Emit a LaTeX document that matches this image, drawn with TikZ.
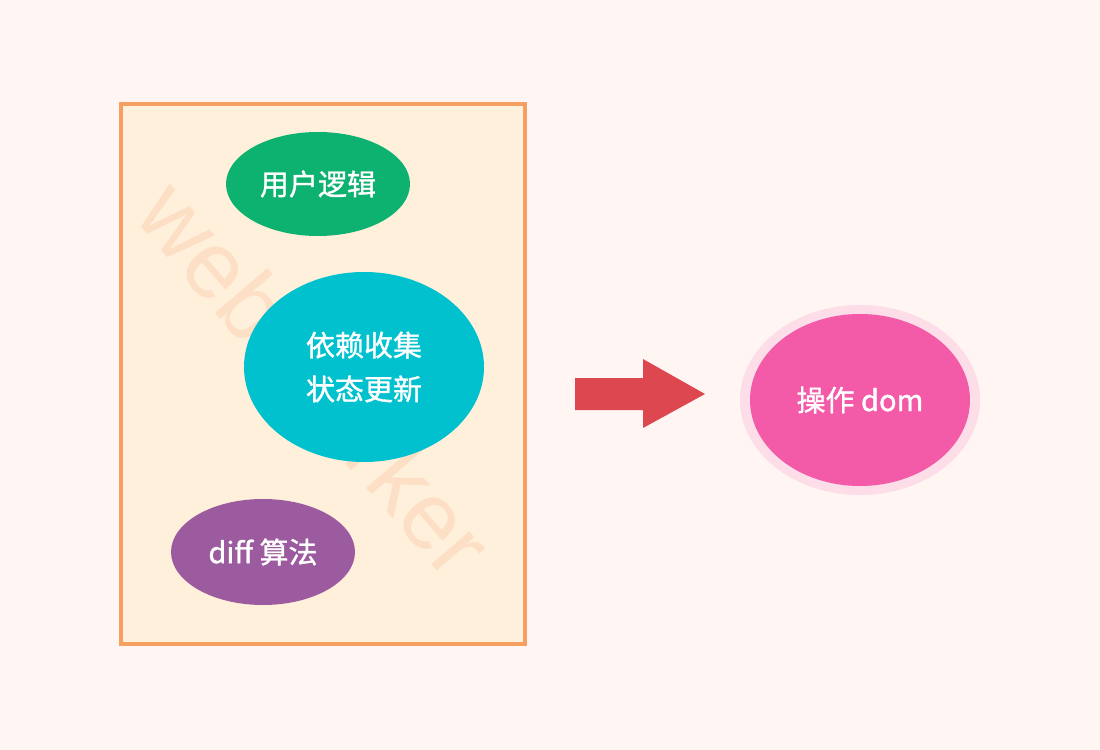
\documentclass[tikz,border=0pt]{standalone}
\usepackage{fontspec}
\setmainfont{Noto Sans CJK SC}[FakeBold=1.2]
\newfontfamily\wmfont{Liberation Sans}
\usetikzlibrary{shapes.geometric}
\definecolor{bgc}{HTML}{FFF6F3}
\definecolor{boxfill}{HTML}{FFF0DB}
\definecolor{boxline}{HTML}{F5A060}
\definecolor{wmc}{HTML}{FDDFC6}
\definecolor{greenc}{HTML}{0DB170}
\definecolor{cyanc}{HTML}{00C1CD}
\definecolor{purplec}{HTML}{9C5B9F}
\definecolor{pinkc}{HTML}{F35AA8}
\definecolor{haloc}{HTML}{FDDDE8}
\definecolor{arrowc}{HTML}{DD4750}
\tikzset{
  blob/.style={ellipse, draw=none, text=white, inner sep=0pt, font=\fontsize{16.5}{25}\selectfont, align=center},
}
\begin{document}
\begin{tikzpicture}[x=0.02cm,y=-0.02cm]
\fill[bgc] (0,0) rectangle (1100,750);
\useasboundingbox (0,0) rectangle (1100,750);
\draw[boxline, line width=2.2pt, fill=boxfill] (121,104) rectangle (525,644);
\node[wmc, rotate=-49.3, font=\wmfont\fontsize{54}{54}\selectfont] (wm) at (316,378) {web worker};
\node[blob, fill=greenc, minimum width=184*0.02cm, minimum height=104*0.02cm] (user) at (318,184) {用户逻辑};
\node[blob, fill=cyanc, minimum width=240*0.02cm, minimum height=190*0.02cm] (dep) at (364,367) {依赖收集\\状态更新};
\node[blob, fill=purplec, minimum width=184*0.02cm, minimum height=106*0.02cm] (diff) at (263,552) {diff 算法};
\node[ellipse, fill=haloc, minimum width=240*0.02cm, minimum height=190*0.02cm] (halo) at (860,400) {};
\node[blob, fill=pinkc, minimum width=220*0.02cm, minimum height=172*0.02cm] (dom) at (860,400) {操作 dom};
\fill[arrowc] (575,378) -- (643,378) -- (643,359) -- (705,394) -- (643,428) -- (643,410) -- (575,410) -- cycle;
\end{tikzpicture}
\end{document}
